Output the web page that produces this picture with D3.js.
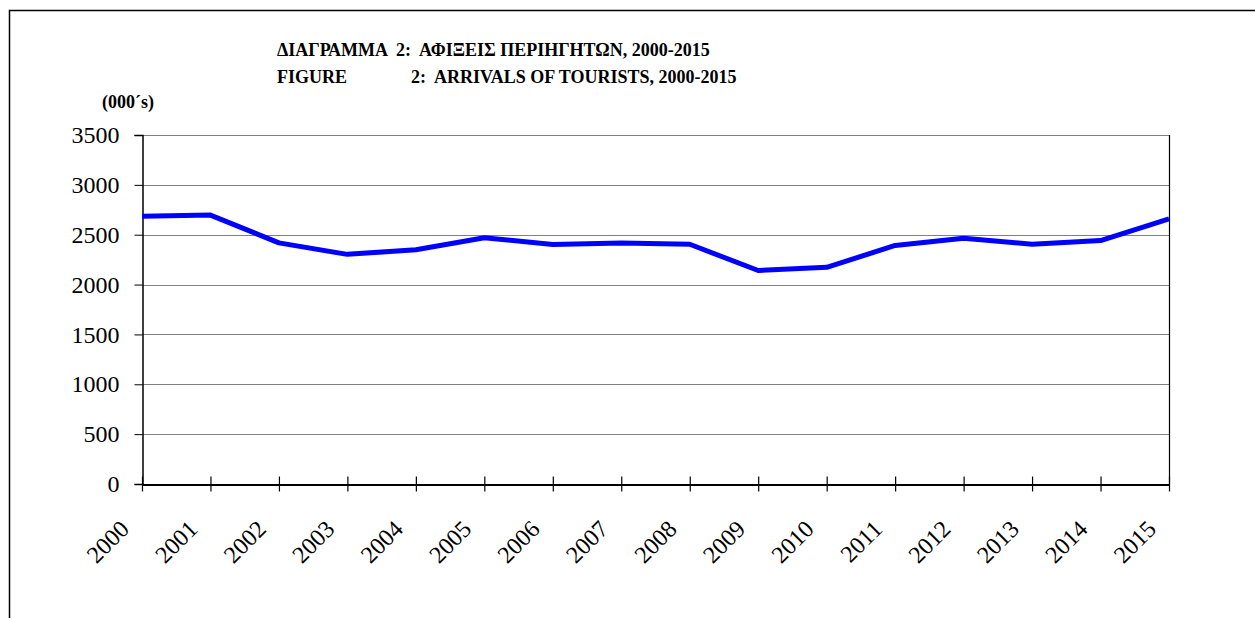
<!DOCTYPE html>
<html>
<head>
<meta charset="utf-8">
<script src="https://cdn.jsdelivr.net/npm/d3@7"></script>
<style>
  html, body { margin: 0; padding: 0; background: #fff; }
  svg { display: block; }
  text { font-family: "Liberation Serif", "Times New Roman", serif; fill: #000; }
</style>
</head>
<body>
<div id="chart"></div>
<script>
// data
var years = ["2000","2001","2002","2003","2004","2005","2006","2007",
             "2008","2009","2010","2011","2012","2013","2014","2015"];
var arrivals = [2686, 2697, 2418, 2303, 2349, 2470, 2401, 2416,
                2404, 2141, 2173, 2392, 2465, 2405, 2441, 2659];
var yTicks = [0, 500, 1000, 1500, 2000, 2500, 3000, 3500];
var titleGr = "ΔΙΑΓΡΑΜΜΑ  2:  ΑΦΙΞΕΙΣ ΠΕΡΙΗΓΗΤΩΝ, 2000-2015";
var titleEnLead = "FIGURE";
var titleEn = "2:  ARRIVALS OF TOURISTS, 2000-2015";
var unitLabel = "(000´s)";

var W = 1255, H = 618;
var m = {left: 142, right: 1169, top: 135, bottom: 484};

var svg = d3.select("#chart")
            .append("svg")
            .attr("width", W)
            .attr("height", H);

// outer frame (left + top edges visible)
svg.append("path")
   .attr("d", "M9.5," + H + "V10.5H" + W)
   .attr("fill", "none")
   .attr("stroke", "#000")
   .attr("stroke-width", 1.5);

var x = d3.scalePoint()
          .domain(years)
          .range([m.left, m.right]);

var y = d3.scaleLinear()
          .domain([0, 3500])
          .range([m.bottom, m.top]);

// gridlines
svg.append("g")
   .selectAll("line")
   .data(yTicks.filter(function (d) { return d > 0; }))
   .enter()
   .append("line")
   .attr("x1", m.left)
   .attr("x2", m.right)
   .attr("y1", function (d) { return Math.round(y(d)) + 0.5; })
   .attr("y2", function (d) { return Math.round(y(d)) + 0.5; })
   .attr("stroke", "#808080")
   .attr("stroke-width", 1.2);

// right border
svg.append("line")
   .attr("x1", m.right + 0.5).attr("x2", m.right + 0.5)
   .attr("y1", m.top).attr("y2", m.bottom)
   .attr("stroke", "#000")
   .attr("stroke-width", 1.2);

// y axis
var yAxis = svg.append("g")
   .attr("transform", "translate(" + (m.left + 0.5) + ",0)")
   .call(d3.axisLeft(y).tickValues(yTicks).tickFormat(d3.format("d"))
           .tickSize(8).tickPadding(15));
yAxis.select(".domain").attr("stroke-width", 1.5);
yAxis.selectAll("text")
     .attr("font-family", "Liberation Serif")
     .attr("font-size", 24)
     .attr("dy", "0.32em");

// x axis
var xAxis = svg.append("g")
   .attr("transform", "translate(0," + (m.bottom + 0.5) + ")")
   .call(d3.axisBottom(x).tickSizeInner(7).tickSizeOuter(0));
xAxis.select(".domain").attr("stroke-width", 2);
xAxis.selectAll(".tick line").attr("y1", -8).attr("stroke-width", 1.2);
xAxis.selectAll(".tick text")
     .attr("font-family", "Liberation Serif")
     .attr("font-size", 24)
     .attr("text-anchor", "end")
     .attr("y", 0)
     .attr("dy", 0)
     .attr("transform", "translate(-12,46) rotate(-45)");

// series line
var line = d3.line()
             .x(function (d, i) { return x(years[i]); })
             .y(function (d) { return y(d); });

svg.append("path")
   .datum(arrivals)
   .attr("d", line)
   .attr("fill", "none")
   .attr("stroke", "#0000ff")
   .attr("stroke-width", 5)
   .attr("stroke-linejoin", "round");

// titles
var tg = svg.append("g")
            .attr("font-family", "Liberation Serif")
            .attr("font-weight", "bold")
            .attr("font-size", 18);
tg.append("text")
  .attr("x", 277).attr("y", 56)
  .style("white-space", "pre")
  .text(titleGr);
tg.append("text")
  .attr("x", 277).attr("y", 83)
  .text(titleEnLead);
tg.append("text")
  .attr("x", 411).attr("y", 83)
  .style("white-space", "pre")
  .text(titleEn);
tg.append("text")
  .attr("x", 102).attr("y", 108)
  .text(unitLabel);
</script>
</body>
</html>
